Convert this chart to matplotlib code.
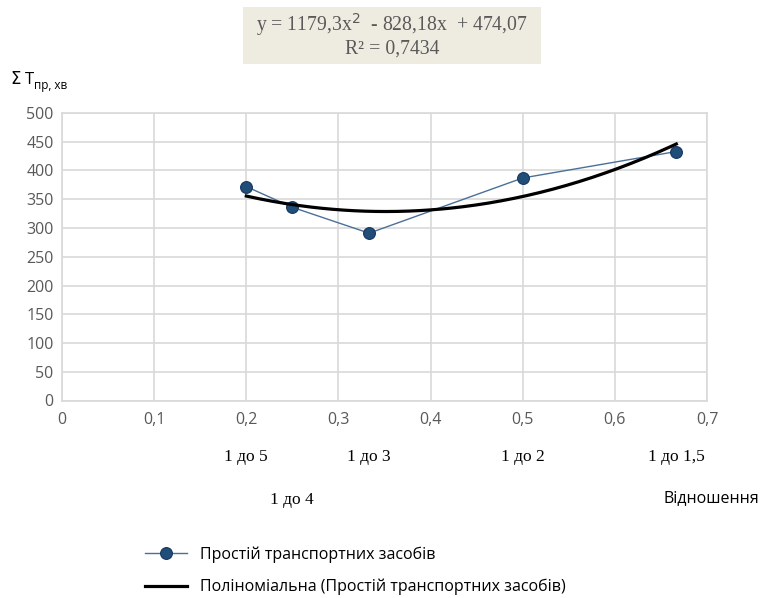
import numpy as np
import matplotlib.pyplot as plt
from matplotlib.patches import Rectangle

# простій транспортних засобів залежно від відношення
x_vals = [0.2, 0.25, 0.3333, 0.5, 0.6667]
t_vals = [372, 336, 291, 387, 433]
ratio_top = ['1 до 5', '1 до 3', '1 до 2', '1 до 1,5']
ratio_top_x = [0.2, 0.3333, 0.5, 0.6667]
ratio_bottom = ['1 до 4']
ratio_bottom_x = [0.25]
# коефіцієнти поліноміального тренду (2-го ступеня)
poly_coef = [1179.3, -828.18, 474.07]
r2_text = '0,7434'

W, H = 766, 598
grey = '#595959'
fig = plt.figure(figsize=(W/100, H/100), dpi=100)
ax = fig.add_axes([62/W, 1-400.5/H, 645/W, 287.5/H])

ax.plot(x_vals, t_vals, color='#4a6f99', lw=1.0, marker='o', ms=8.5,
        mfc='#1f4e79', mec='#17375e', mew=0.8, zorder=3,
        label='Простій транспортних засобів')
xs = np.linspace(min(x_vals), max(x_vals), 200)
ax.plot(xs, np.polyval(poly_coef, xs), color='black', lw=2.3, zorder=4,
        label='Поліноміальна (Простій транспортних засобів)')

ax.set_xlim(0, 0.7)
ax.set_ylim(0, 500)
ax.set_xticks(np.arange(0, 0.71, 0.1))
ax.set_yticks(range(0, 501, 50))
ax.set_xticklabels(['0', '0,1', '0,2', '0,3', '0,4', '0,5', '0,6', '0,7'])
ax.grid(True, color='#d9d9d9', lw=1.2)
ax.set_axisbelow(True)
for s in ax.spines.values():
    s.set_color('#d9d9d9')
    s.set_linewidth(1.2)
ax.tick_params(length=0, labelsize=11.5, colors=grey, pad=8)
ax.tick_params(axis='y', pad=6)
for lab in ax.get_xticklabels() + ax.get_yticklabels():
    lab.set_fontfamily('Open Sans')

# підпис осі Y
fig.text(10/W, 1-80/H, r'$\Sigma$ T', fontsize=12, color='black',
         family='Open Sans', va='center')
fig.text(34/W, 1-86/H, 'пр, хв', fontsize=8.5, color='black',
         family='Open Sans', va='center')

# рівняння тренду
fig.add_artist(Rectangle((243/W, 1-64/H), 298/W, 57/H, transform=fig.transFigure,
                         fc='#eeece1', ec='none', zorder=0))
eq = ('y = ' + f'{poly_coef[0]}'.replace('.', ',') + 'x$^2$  - '
      + f'{-poly_coef[1]}'.replace('.', ',') + 'x  + '
      + f'{poly_coef[2]}'.replace('.', ',') + '\nR² = ' + r2_text)
fig.text(392/W, 1-35/H, eq, ha='center', va='center', fontsize=14.2,
         family='Liberation Serif', color=grey, linespacing=1.1)

# підписи відношень
for xv, lab in zip(ratio_top_x, ratio_top):
    ax.text(xv, -0.195, lab, transform=ax.get_xaxis_transform(), ha='center',
            va='center', fontsize=12.5, family='Liberation Serif', color='black')
for xv, lab in zip(ratio_bottom_x, ratio_bottom):
    ax.text(xv, -0.345, lab, transform=ax.get_xaxis_transform(), ha='center',
            va='center', fontsize=12.5, family='Liberation Serif', color='black')
fig.text(711/W, 1-498/H, 'Відношення', ha='center', va='center',
         fontsize=11.5, family='Open Sans', color='black')

leg = fig.legend(loc='upper left', bbox_to_anchor=(131/W, 1-532/H),
                 frameon=False, handlelength=2.6, labelspacing=1.0,
                 prop={'family': 'Open Sans', 'size': 11.5})

fig.savefig('out.png', dpi=100)
